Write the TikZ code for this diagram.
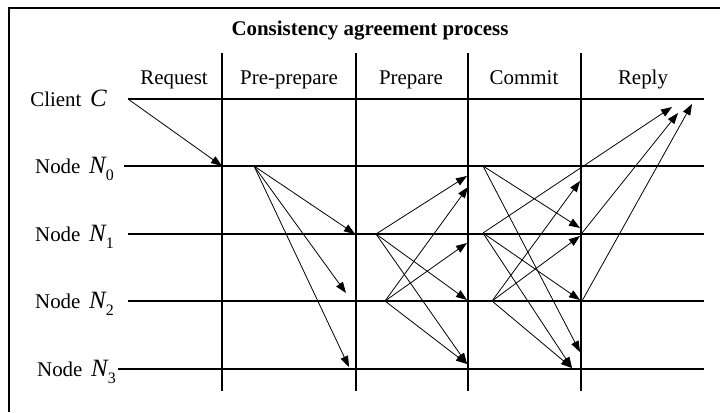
\documentclass[tikz,border=0pt]{standalone}
\usepackage{fontspec}
\setmainfont{Liberation Serif}
\usetikzlibrary{arrows.meta}

% italic symbols of the rows
\newcommand{\symN}[1]{{\fontsize{25}{25}\selectfont\itshape N}\raisebox{-7bp}{\fontsize{16}{16}\selectfont #1}}
\newcommand{\symC}{{\fontsize{25}{25}\selectfont\itshape C}}

\begin{document}
\begin{tikzpicture}[
    x=1bp, y=-1bp,
    every node/.style={font=\fontsize{21}{24}\selectfont, inner sep=0pt},
    lbl/.style={anchor=base east},
    phase/.style={anchor=base},
    grid/.style={line width=1.1pt},
    arr/.style={-{Triangle[length=11bp,width=8bp]}, line width=0.8pt},
]
    \useasboundingbox (0,0) rectangle (720,412);

    % frame
    \draw[line width=1.4pt] (9,412) -- (9,8) -- (720,8);

    % title and phases
    \node[font=\fontsize{21}{24}\selectfont\bfseries, anchor=base] (title) at (370,35) {Consistency agreement process};
    \node[phase] (req) at (174,84) {Request};
    \node[phase] (pre) at (289,84) {Pre-prepare};
    \node[phase] (prep) at (411,84) {Prepare};
    \node[phase] (comm) at (524,84) {Commit};
    \node[phase] (repl) at (643,84) {Reply};

    % row labels
    \node[lbl] (lc) at (107,106) {Client\, \symC};
    \node[lbl] (l0) at (114,173) {Node\, \symN{0}};
    \node[lbl] (l1) at (114,241) {Node\, \symN{1}};
    \node[lbl] (l2) at (114,308) {Node\, \symN{2}};
    \node[lbl] (l3) at (116,376) {Node\, \symN{3}};

    % lifelines
    \coordinate (c-s) at (128,99);  \coordinate (c-e) at (704,99);
    \coordinate (n0-s) at (124,166); \coordinate (n0-e) at (704,166);
    \coordinate (n1-s) at (128,234); \coordinate (n1-e) at (704,234);
    \coordinate (n2-s) at (128,301); \coordinate (n2-e) at (704,301);
    \coordinate (n3-s) at (118,369); \coordinate (n3-e) at (704,369);
    \foreach \r in {c,n0,n1,n2,n3}
        \draw[grid] (\r-s) -- (\r-e);

    % phase borders
    \foreach \x [count=\i] in {222,356,468,581} {
        \coordinate (v\i-t) at (\x,53);
        \coordinate (v\i-b) at (\x,391);
        \draw[grid] (v\i-t) -- (v\i-b);
    }

    % senders
    \coordinate (pp0) at (254,166);
    \coordinate (pa1) at (376,234);
    \coordinate (pa2) at (385,301);
    \coordinate (cm0) at (483,166);
    \coordinate (cm1) at (483,233);
    \coordinate (cm2) at (492,301);
    \coordinate (rp1) at (582,233);
    \coordinate (rp2) at (582,301);

    % receivers
    \coordinate (rq-0) at (222,166);
    \coordinate (pp-1) at (355,234);
    \coordinate (pp-2) at (346,293);
    \coordinate (pp-3) at (349,367);
    \coordinate (pa-0a) at (467,176);
    \coordinate (pa-0b) at (468,187);
    \coordinate (pa-1) at (467,243);
    \coordinate (pa-2) at (467,300);
    \coordinate (pa-3) at (467,364);
    \coordinate (cm-0) at (580,181);
    \coordinate (cm-1a) at (580,228);
    \coordinate (cm-1b) at (580,236);
    \coordinate (cm-2) at (580,300);
    \coordinate (cm-3a) at (580,352);
    \coordinate (cm-3b) at (572,368);
    \coordinate (rp-a) at (672,107);
    \coordinate (rp-b) at (678,113);
    \coordinate (rp-c) at (692,104);

    % request
    \draw[arr] (c-s) -- (rq-0);

    % pre-prepare
    \foreach \t in {pp-1,pp-2,pp-3}
        \draw[arr] (pp0) -- (\t);

    % prepare
    \foreach \t in {pa-0a,pa-2,pa-3}
        \draw[arr] (pa1) -- (\t);
    \foreach \t in {pa-0b,pa-1,pa-3}
        \draw[arr] (pa2) -- (\t);

    % commit
    \foreach \t in {cm-1a,cm-3a}
        \draw[arr] (cm0) -- (\t);
    \foreach \t in {cm-2,cm-3b}
        \draw[arr] (cm1) -- (\t);
    \foreach \t in {cm-0,cm-1b,cm-3b}
        \draw[arr] (cm2) -- (\t);

    % reply
    \draw[arr] (cm1) -- (rp-a);
    \draw[arr] (rp1) -- (rp-b);
    \draw[arr] (rp2) -- (rp-c);
\end{tikzpicture}
\end{document}
